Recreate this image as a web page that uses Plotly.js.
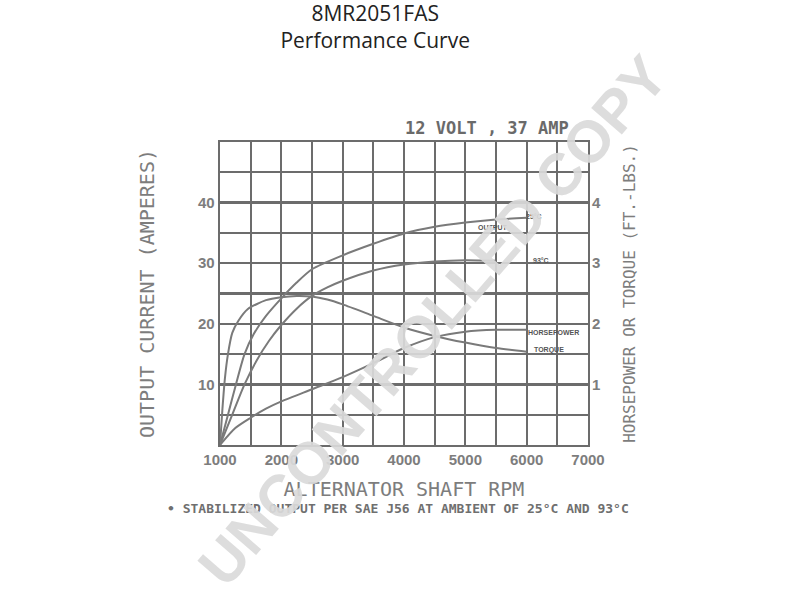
<!DOCTYPE html>
<html>
<head>
<meta charset="utf-8">
<script src="https://cdn.plot.ly/plotly-3.0.1.min.js"></script>
<style>html,body{margin:0;padding:0;background:#fff;}#chart{width:800px;height:600px;}</style>
</head>
<body>
<div id="chart"></div>
<script>
// Output current at 25°C ambient (amperes)
const rpmOut25 = [1000,1130,1260,1400,1550,1750,2000,2250,2500,3000,3500,4000,4500,5000,5500,6000];
const ampsOut25 = [0,5,10,15,18.3,21.3,24.2,26.8,29.0,31.3,33.2,34.9,36.0,36.7,37.2,37.5];
// Output current at 93°C ambient (amperes)
const rpmOut93 = [1000,1200,1400,1600,1800,2000,2250,2500,2750,3000,3500,4000,4500,5000,5500];
const ampsOut93 = [0,5,10,14,17.2,19.8,22.5,24.6,26.0,27.1,28.8,29.8,30.3,30.5,30.4];
// Torque (ft.-lbs.)
const rpmTorque = [1000,1040,1080,1130,1200,1300,1450,1750,2000,2250,2500,2750,3000,3500,4000,4500,5000,5500,6000];
const torque = [0,0.6,1.1,1.5,1.85,2.05,2.24,2.39,2.44,2.46,2.45,2.40,2.32,2.13,1.94,1.80,1.69,1.60,1.54];
// Horsepower
const rpmHP = [1000,1250,1500,1750,2000,2500,3000,3500,4000,4500,5000,5500,6000];
const horsepower = [0,0.28,0.45,0.60,0.72,0.92,1.12,1.35,1.60,1.78,1.87,1.90,1.90];

// Axes ticks
const xGrid = [1000,1500,2000,2500,3000,3500,4000,4500,5000,5500,6000,6500,7000];
const xLabels = ['1000','','2000','','3000','','4000','','5000','','6000','','7000'];
const yGrid = [0,5,10,15,20,25,30,35,40,45,50];
const yLabels = ['','','10','','20','','30','','40','',''];
const y2Vals = [1,2,3,4];
const y2Labels = ['1','2','3','4'];

const lineStyle = {color:'#7a7a7a', width:2, shape:'spline', smoothing:0.7};
const traces = [
  {x:rpmOut25, y:ampsOut25, type:'scatter', mode:'lines', name:'Output 25°C', line:lineStyle, yaxis:'y'},
  {x:rpmOut93, y:ampsOut93, type:'scatter', mode:'lines', name:'Output 93°C', line:lineStyle, yaxis:'y'},
  {x:rpmTorque, y:torque, type:'scatter', mode:'lines', name:'Torque', line:lineStyle, yaxis:'y2'},
  {x:rpmHP, y:horsepower, type:'scatter', mode:'lines', name:'Horsepower', line:lineStyle, yaxis:'y2'}
];

const tickFont = {family:'Liberation Sans, Arial, sans-serif', size:15, color:'#7d7d7d', weight:700};
const mono = 'DejaVu Sans Mono, monospace';
const small = {family:'Liberation Sans, Arial, sans-serif', size:7, color:'#555', weight:700};

function note(text, x, y, font, refs) {
  return Object.assign({text:text, x:x, y:y, showarrow:false, xanchor:'center', yanchor:'middle', font:font},
                       refs || {xref:'x', yref:'y'});
}
const paperRef = {xref:'paper', yref:'paper'};

const layout = {
  width:800, height:600,
  paper_bgcolor:'#fff', plot_bgcolor:'#fff',
  margin:{l:220, r:212, t:142, b:155},
  showlegend:false,
  title:{text:'8MR2051FAS<br>Performance Curve', font:{family:'Open Sans, sans-serif', size:21, color:'#222'},
         x:0.469, xanchor:'center', xref:'container', y:0.965, yanchor:'top', yref:'container'},
  xaxis:{range:[1000,7000], tickmode:'array', tickvals:xGrid, ticktext:xLabels,
         showgrid:true, gridcolor:'#6c6c6c', gridwidth:2.3, zeroline:false,
         showline:true, linecolor:'#6c6c6c', linewidth:2.3, mirror:true, ticks:'',
         tickfont:tickFont,
         title:{text:'ALTERNATOR SHAFT RPM', font:{family:mono, size:20, color:'#7d7d7d'}, standoff:15}},
  yaxis:{range:[0,50], tickmode:'array', tickvals:yGrid, ticktext:yLabels,
         showgrid:true, gridcolor:'#6c6c6c', gridwidth:2.3, zeroline:false,
         showline:true, linecolor:'#6c6c6c', linewidth:2.3, mirror:true, ticks:'',
         tickfont:tickFont, ticklabelstandoff:0,
         title:{text:'OUTPUT CURRENT (AMPERES)', font:{family:mono, size:20, color:'#7d7d7d'}, standoff:38}},
  yaxis2:{range:[0,5], overlaying:'y', side:'right', tickmode:'array', tickvals:y2Vals, ticktext:y2Labels,
          showgrid:false, zeroline:false, showline:false, ticks:'',
          tickfont:tickFont, ticklabelstandoff:3,
          title:{text:'HORSEPOWER OR TORQUE (FT.-LBS.)', font:{family:mono, size:16, color:'#7d7d7d'}, standoff:23}},
  annotations:[
    note('12 VOLT , 37 AMP', 0.726, 1.046, {family:mono, size:17, color:'#6a6a6a', weight:700}, paperRef),
    note('• STABILIZED OUTPUT PER SAE J56 AT AMBIENT OF 25°C AND 93°C', 0.484, -0.211,
         {family:mono, size:13, color:'#6f6f6f', weight:700}, paperRef),
    note('OUTPUT', 5450, 35.9, small),
    note('25°C', 6120, 37.7, small),
    note('93°C', 6230, 30.5, small),
    note('HORSEPOWER', 6440, 18.6, small),
    note('TORQUE', 6360, 15.6, small),
    Object.assign(note('UNCONTROLLED COPY', 0.579, 0.409,
         {family:'Liberation Sans, Arial, sans-serif', size:59, color:'rgba(218,218,218,0.92)', weight:700}, paperRef),
         {textangle:-49})
  ]
};

Plotly.newPlot('chart', traces, layout, {displayModeBar:false, staticPlot:true});
</script>
</body>
</html>
